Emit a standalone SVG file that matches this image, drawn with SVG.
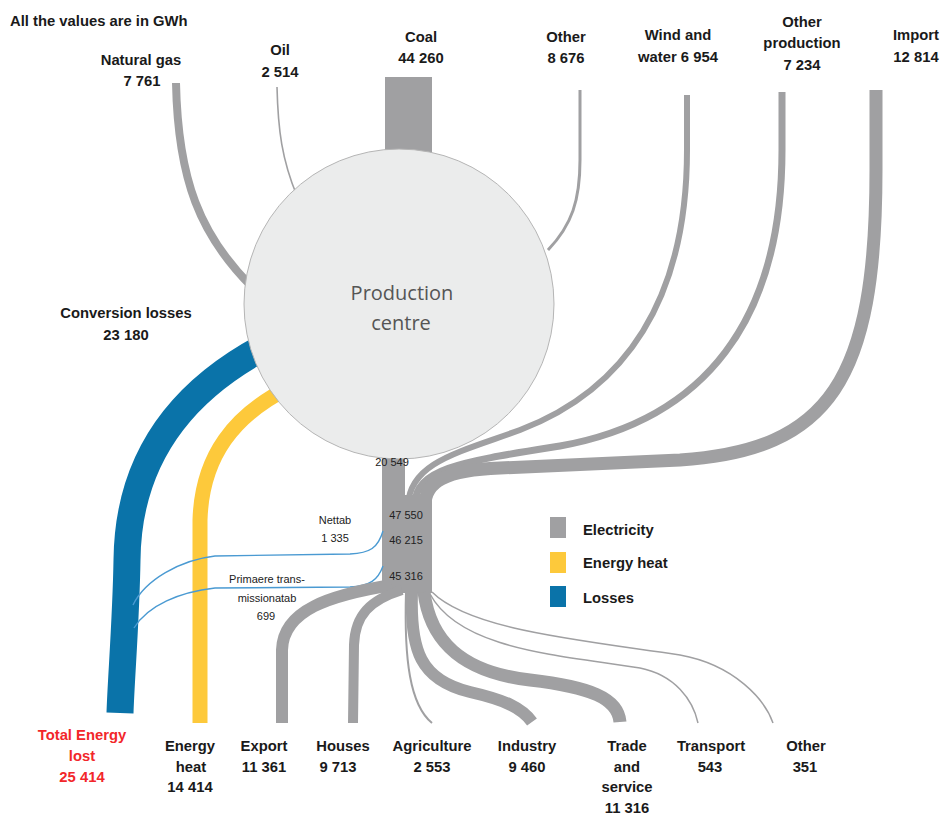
<svg xmlns="http://www.w3.org/2000/svg" width="945" height="816" viewBox="0 0 945 816">
  <style>
    .lbl { font-family: "Liberation Sans", Arial, sans-serif; font-weight: bold; font-size: 14.8px; fill: #1a1a1a; text-anchor: middle; }
    .lost { fill: #f2262a; }
    .num { font-family: "Liberation Sans", Arial, sans-serif; font-size: 11px; fill: #222; text-anchor: middle; }
    .big { font-family: "Open Sans", "Liberation Sans", sans-serif; font-size: 20px; fill: #555; text-anchor: middle; }
    .el { fill: none; stroke: #a0a0a2; }
    .loss { fill: none; stroke: #0a73a9; }
    .heat { fill: none; stroke: #fdc93b; }
    .thin-loss { fill: none; stroke: #4a9ad2; stroke-width: 1.4; }
  </style>

  <!-- flows -->
  <g id="connectors">
    <!-- inputs to the production centre -->
    <path class="el" stroke-width="8" d="M176,83 C178,180 200,235 252,287"/>
    <path class="el" stroke-width="1.6" d="M277,87 C278,130 282,160 297,196"/>
    <rect x="385" y="77" width="47" height="80" fill="#a0a0a2"/>
    <path class="el" stroke-width="3" d="M580,90 L580,160 C580,200 572,225 548,250"/>

    <!-- direct electricity sources joining the trunk -->
    <path class="el" stroke-width="6" d="M687,95 L687,150 C687,300 625,390 520,430 C460,452 410,462 408,505"/>
    <path class="el" stroke-width="7" d="M782,92 L782,150 C782,320 705,420 560,446 C460,462 416,468 414.5,505"/>
    <path class="el" stroke-width="13" d="M876,90 L876,170 C876,380 830,450 680,460 L500,468 C445,470 425,482 425,505"/>

    <!-- electricity trunk -->
    <rect x="382" y="430" width="23" height="160" fill="#a0a0a2"/>
    <rect x="382" y="495" width="50" height="98" fill="#a0a0a2"/>

    <!-- losses and heat leaving the production centre -->
    <path class="loss" stroke-width="27" d="M270,344 C180,390 128,460 127,560 C126,620 121,680 120,713"/>
    <path class="heat" stroke-width="15" d="M288,388 C235,415 202,455 200,520 L200,723"/>

    <!-- grid losses back to total energy lost -->
    <path class="thin-loss" d="M383,531 C378,548 370,553 350,554 L215,556 C180,560 145,580 133,605"/>
    <path class="thin-loss" d="M383,566 C378,580 370,586 350,587 L215,588 C180,592 148,605 134,628"/>

    <!-- electricity consumption -->
    <path class="el" stroke-width="12" d="M392,585 C330,595 283,610 282,650 L282,723"/>
    <path class="el" stroke-width="10" d="M402,590 C370,600 355,615 354,645 L353,723"/>
    <path class="el" stroke-width="2" d="M406,592 C404,660 410,705 432,723"/>
    <path class="el" stroke-width="12" d="M412,592 C410,650 420,680 470,692 C505,700 522,708 532,722"/>
    <path class="el" stroke-width="13" d="M424,592 C430,640 460,672 530,680 C590,687 618,698 620,722"/>
    <path class="el" stroke-width="1.5" d="M430,594 C460,650 560,655 640,668 C675,675 693,700 698,723"/>
    <path class="el" stroke-width="1.5" d="M432,592 C470,630 580,640 680,655 C735,665 765,700 773,723"/>
  </g>

  <!-- production centre -->
  <g id="production-centre">
    <circle cx="399" cy="304" r="155" fill="#ebecec" stroke="#b5b5b5" stroke-width="1"/>
    <text class="big" x="402" y="300">Production</text>
    <text class="big" x="401" y="330">centre</text>
  </g>

  <!-- trunk values -->
  <g id="trunk-values">
    <text class="num" x="392" y="466">20 549</text>
    <text class="num" x="406" y="519">47 550</text>
    <text class="num" x="406" y="544">46 215</text>
    <text class="num" x="406" y="580">45 316</text>
  </g>

  <g id="grid-loss-labels">
    <text class="num" x="335" y="524">Nettab</text>
    <text class="num" x="335" y="542">1 335</text>
    <text class="num" x="267" y="583">Primaere trans-</text>
    <text class="num" x="267" y="602">missionatab</text>
    <text class="num" x="266" y="620">699</text>
  </g>

  <text class="lbl" x="10" y="26" style="text-anchor:start">All the values are in GWh</text>

  <!-- sources -->
  <g id="src-natural-gas"><text class="lbl" x="141" y="65">Natural gas</text><text class="lbl" x="142" y="86">7 761</text></g>
  <g id="src-oil"><text class="lbl" x="280" y="55">Oil</text><text class="lbl" x="280" y="77">2 514</text></g>
  <g id="src-coal"><text class="lbl" x="421" y="42">Coal</text><text class="lbl" x="421" y="63">44 260</text></g>
  <g id="src-other"><text class="lbl" x="566" y="42">Other</text><text class="lbl" x="566" y="63">8 676</text></g>
  <g id="src-wind"><text class="lbl" x="678" y="40">Wind and</text><text class="lbl" x="678" y="62">water 6 954</text></g>
  <g id="src-other-production"><text class="lbl" x="802" y="27">Other</text><text class="lbl" x="802" y="48">production</text><text class="lbl" x="802" y="70">7 234</text></g>
  <g id="src-import"><text class="lbl" x="916" y="40">Import</text><text class="lbl" x="916" y="62">12 814</text></g>

  <g id="conversion-losses"><text class="lbl" x="126" y="318">Conversion losses</text><text class="lbl" x="126" y="340">23 180</text></g>

  <!-- sinks -->
  <g id="sink-total-lost"><text class="lbl lost" x="82" y="740">Total Energy</text><text class="lbl lost" x="82" y="761">lost</text><text class="lbl lost" x="82" y="782">25 414</text></g>
  <g id="sink-energy-heat"><text class="lbl" x="190" y="751">Energy</text><text class="lbl" x="191" y="772">heat</text><text class="lbl" x="190" y="792">14 414</text></g>
  <g id="sink-export"><text class="lbl" x="264" y="751">Export</text><text class="lbl" x="264" y="772">11 361</text></g>
  <g id="sink-houses"><text class="lbl" x="343" y="751">Houses</text><text class="lbl" x="338" y="772">9 713</text></g>
  <g id="sink-agriculture"><text class="lbl" x="432" y="751">Agriculture</text><text class="lbl" x="432" y="772">2 553</text></g>
  <g id="sink-industry"><text class="lbl" x="527" y="751">Industry</text><text class="lbl" x="527" y="772">9 460</text></g>
  <g id="sink-trade"><text class="lbl" x="627" y="751">Trade</text><text class="lbl" x="627" y="772">and</text><text class="lbl" x="627" y="792">service</text><text class="lbl" x="627" y="813">11 316</text></g>
  <g id="sink-transport"><text class="lbl" x="711" y="751">Transport</text><text class="lbl" x="710" y="772">543</text></g>
  <g id="sink-other"><text class="lbl" x="806" y="751">Other</text><text class="lbl" x="805" y="772">351</text></g>

  <!-- legend -->
  <g id="legend">
    <rect x="550" y="517" width="16" height="21" fill="#a0a0a2"/>
    <rect x="550" y="552" width="16" height="21" fill="#fdc93b"/>
    <rect x="550" y="586" width="16" height="21" fill="#0a73a9"/>
    <text class="lbl" x="583" y="535" style="text-anchor:start">Electricity</text>
    <text class="lbl" x="583" y="568" style="text-anchor:start">Energy heat</text>
    <text class="lbl" x="583" y="603" style="text-anchor:start">Losses</text>
  </g>
</svg>
